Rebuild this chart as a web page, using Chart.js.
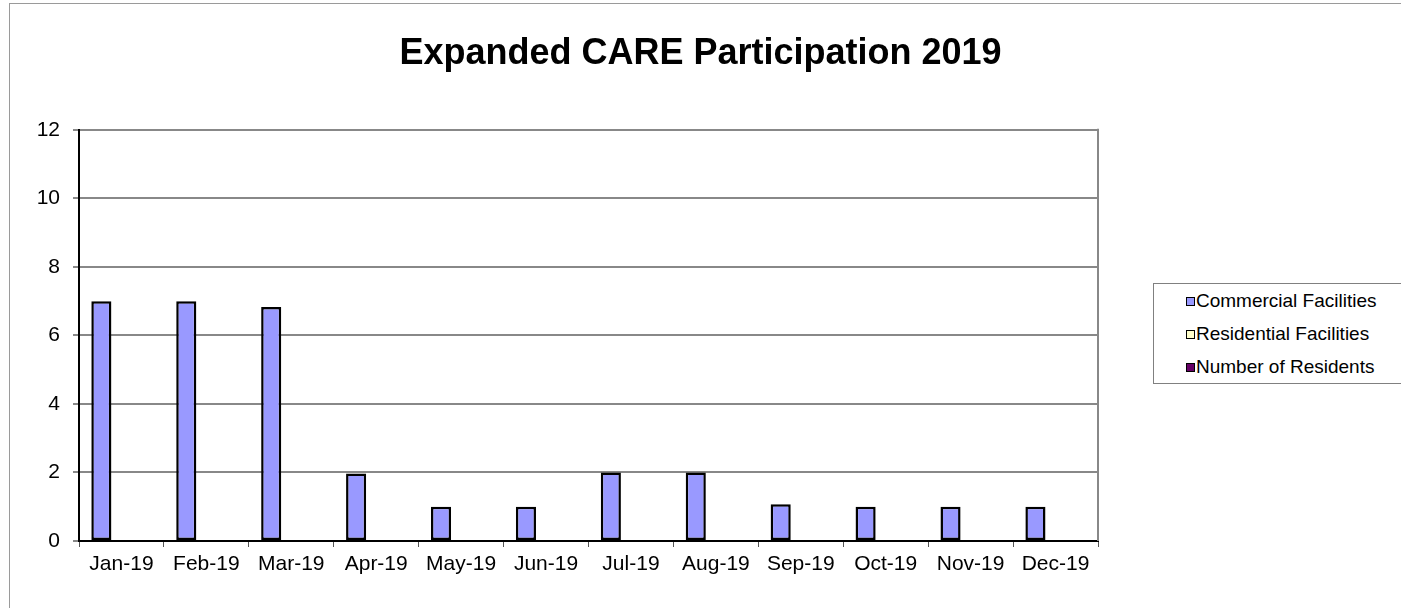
<!DOCTYPE html>
<html lang="en">
<head>
<meta charset="UTF-8">
<title>Expanded CARE Participation 2019</title>
<script src="https://cdn.jsdelivr.net/npm/chart.js"></script>
<style>
    html, body { margin: 0; padding: 0; background: #fff; overflow: hidden; }
    .wrap { position: relative; width: 1401px; height: 608px; overflow: hidden; }
    .frame { position: absolute; left: 9px; top: 3px; width: 1500px; height: 700px; border-top: 1px solid #9a9a9a; border-left: 1px solid #9a9a9a; }
    canvas { position: absolute; left: 0; top: 0; }
    .legend { position: absolute; left: 1153px; top: 283px; width: 280px; height: 99px; border: 1px solid #808080; background: #fff;
              font-family: 'Liberation Sans', Arial, sans-serif; font-size: 19px; color: #000; }
    .legend .row { height: 33px; line-height: 33px; padding-left: 32px; white-space: nowrap; }
    .legend .sw { display: inline-block; width: 7px; height: 7px; border: 1px solid #000; margin-right: 1px; vertical-align: 1px; }
</style>
</head>
<body>
<div class="wrap">
    <div class="frame"></div>
    <canvas id="chart" width="1401" height="608"></canvas>
    <div class="legend" id="legend"></div>
</div>
<script>
// values
const months = ['Jan-19', 'Feb-19', 'Mar-19', 'Apr-19', 'May-19', 'Jun-19', 'Jul-19', 'Aug-19', 'Sep-19', 'Oct-19', 'Nov-19', 'Dec-19'];
const commercial = [7, 7, 6.83, 1.97, 1, 1, 2, 2, 1.07, 1, 1, 1];
const residential = [0, 0, 0, 0, 0, 0, 0, 0, 0, 0, 0, 0];
const residents = [0, 0, 0, 0, 0, 0, 0, 0, 0, 0, 0, 0];
const seriesNames = ['Commercial Facilities', 'Residential Facilities', 'Number of Residents'];
const seriesColors = ['#9999FF', '#FFFFCC', '#660066'];
const yMin = 0, yMax = 12, yStep = 2;

const FONT = "'Liberation Sans', Arial, sans-serif";

// right edge of the plot frame (Excel draws it, Chart.js does not)
const plotFrame = {
    id: 'plotFrame',
    afterDraw(chart) {
        const { ctx, chartArea: a } = chart;
        ctx.save();
        ctx.strokeStyle = '#888';
        ctx.lineWidth = 2;
        ctx.beginPath();
        ctx.moveTo(a.right, a.top - 1);
        ctx.lineTo(a.right, a.bottom);
        ctx.stroke();
        ctx.restore();
    }
};

const series = [commercial, residential, residents];

const chart = new Chart(document.getElementById('chart'), {
    type: 'bar',
    data: {
        labels: months,
        datasets: series.map((vals, i) => ({
            label: seriesNames[i],
            data: vals,
            backgroundColor: seriesColors[i],
            borderColor: '#000',
            borderWidth: c => (c.raw === 0 ? 0 : 2.5),
            borderSkipped: false,
            categoryPercentage: 0.71,
            barPercentage: 1.0
        }))
    },
    options: {
        responsive: false,
        animation: false,
        devicePixelRatio: 1,
        layout: { padding: 0 },
        plugins: {
            legend: { display: false },
            tooltip: { enabled: false },
            title: {
                display: true,
                text: 'Expanded CARE Participation 2019',
                color: '#000',
                font: { family: FONT, size: 36, weight: 'bold' },
                padding: { top: 32, bottom: 54.6 }
            }
        },
        scales: {
            x: {
                grid: { display: true, drawOnChartArea: false, drawTicks: true, tickLength: 6, color: '#555', lineWidth: 1 },
                border: { display: true, color: '#000', width: 2 },
                ticks: { color: '#000', font: { family: FONT, size: 21 }, padding: 5, maxRotation: 0, autoSkip: false },
                afterFit(s) { s.height = 67; }
            },
            y: {
                min: yMin,
                max: yMax,
                ticks: { stepSize: yStep, color: '#000', font: { family: FONT, size: 21 }, padding: 13 },
                grid: { color: '#888', lineWidth: 2, tickLength: 6, drawTicks: true },
                border: { display: true, color: '#000', width: 2 },
                afterFit(s) { s.width = 79; }
            },
            // empty space on the right where the legend sits, so the title centres on the whole chart
            side: {
                position: 'right',
                display: true,
                ticks: { display: false },
                grid: { display: false, drawTicks: false },
                border: { display: false },
                afterFit(s) { s.width = 303; }
            }
        }
    },
    plugins: [plotFrame]
});

// html legend built from the same series
const legendEl = document.getElementById('legend');
seriesNames.forEach((name, i) => {
    const row = document.createElement('div');
    row.className = 'row';
    const sw = document.createElement('span');
    sw.className = 'sw';
    sw.style.background = seriesColors[i];
    row.appendChild(sw);
    row.appendChild(document.createTextNode(name));
    legendEl.appendChild(row);
});
</script>
</body>
</html>
